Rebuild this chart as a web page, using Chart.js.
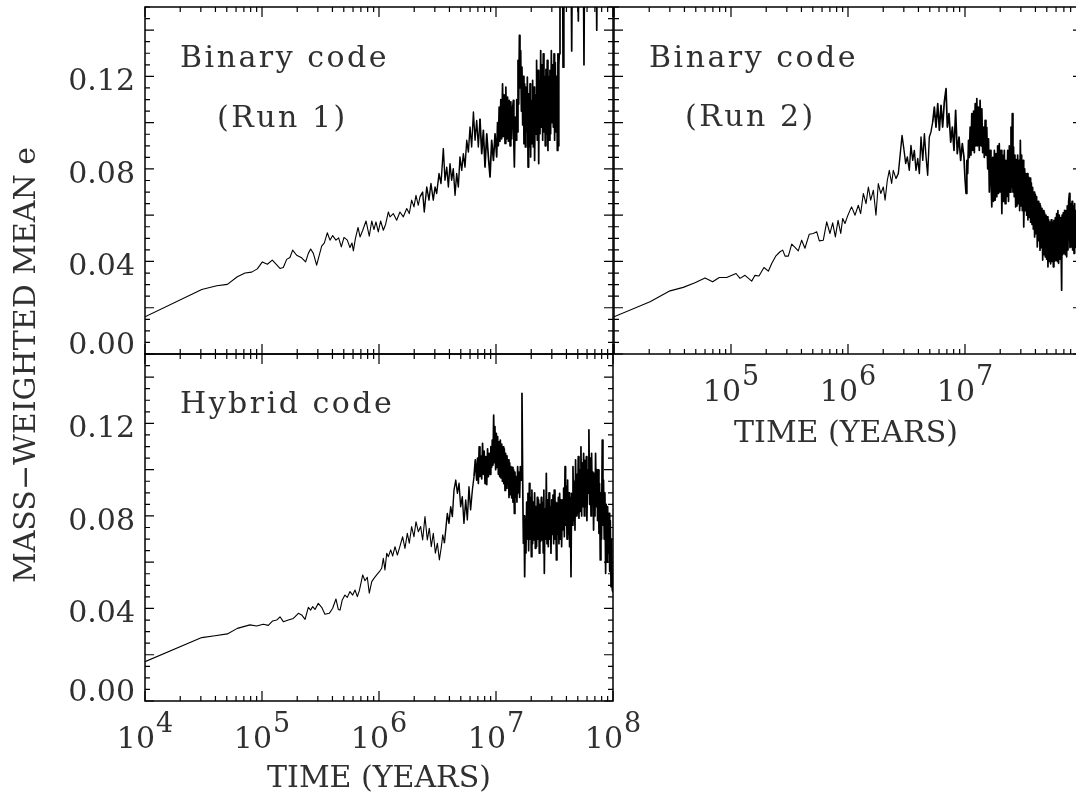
<!DOCTYPE html>
<html>
<head>
<meta charset="utf-8">
<title>Mass-weighted mean eccentricity</title>
<script src="https://cdn.jsdelivr.net/npm/chart.js@4.4.1/dist/chart.umd.min.js"></script>
<style>
  html, body { margin: 0; padding: 0; background: #fff; width: 1076px; height: 797px; overflow: hidden; }
  canvas { position: absolute; left: 0; top: 0; }
</style>
</head>
<body>
<canvas id="run1" width="1076" height="797"></canvas>
<canvas id="run2" width="1090" height="797"></canvas>
<canvas id="hybrid" width="1076" height="797"></canvas>
<script>
// ---- axis values --------------------------------------------------------
const xDecades = [4, 5, 6, 7, 8];                 // log10(time / yr)
const yTickValues = [0, 0.04, 0.08, 0.12];
const yTickLabels = ['0.00', '0.04', '0.08', '0.12'];
const yRange = [0, 0.15];
const yMinorStep = 0.005;                         // minor tick spacing
const yMajorEvery = 4;                            // long tick every 4 minors (0.02)

// ---- Binary code, run 1 -------------------------------------------------
const run1TraceT = [
  4.000, 4.485, 4.613, 4.704, 4.789, 4.855, 4.912, 4.960, 5.003, 5.046,
  5.088, 5.154, 5.182, 5.211, 5.239, 5.262, 5.296, 5.339, 5.373, 5.396,
  5.416, 5.439, 5.467, 5.510, 5.533, 5.558, 5.581, 5.604, 5.632, 5.655,
  5.678, 5.701, 5.729, 5.752, 5.769, 5.781, 5.798, 5.821, 5.838, 5.861,
  5.889, 5.917, 5.938, 5.957, 5.974, 5.994, 6.014, 6.037, 6.057, 6.080,
  6.094, 6.122, 6.151, 6.179, 6.208, 6.237, 6.259, 6.279, 6.299, 6.316,
  6.336, 6.350, 6.373, 6.387, 6.408, 6.427, 6.444, 6.464, 6.479, 6.493,
  6.513, 6.530, 6.550, 6.564, 6.579, 6.593, 6.607, 6.621, 6.635, 6.650,
  6.664, 6.678, 6.692, 6.707, 6.721, 6.735, 6.750, 6.764, 6.778, 6.792,
  6.807, 6.821, 6.835, 6.849, 6.863, 6.878, 6.892, 6.906, 6.921, 6.935,
  6.949, 6.963, 6.978, 6.992
];
const run1TraceE = [
  0.0161, 0.0279, 0.0295, 0.0301, 0.0334, 0.0350, 0.0354, 0.0368, 0.0398, 0.0388,
  0.0406, 0.0370, 0.0374, 0.0409, 0.0417, 0.0449, 0.0427, 0.0416, 0.0398, 0.0435,
  0.0454, 0.0435, 0.0384, 0.0466, 0.0480, 0.0524, 0.0492, 0.0512, 0.0492, 0.0502,
  0.0463, 0.0504, 0.0492, 0.0460, 0.0480, 0.0446, 0.0499, 0.0547, 0.0506, 0.0535,
  0.0575, 0.0509, 0.0575, 0.0538, 0.0571, 0.0528, 0.0575, 0.0535, 0.0561, 0.0614,
  0.0593, 0.0607, 0.0578, 0.0614, 0.0593, 0.0629, 0.0607, 0.0665, 0.0636, 0.0686,
  0.0643, 0.0679, 0.0700, 0.0614, 0.0722, 0.0665, 0.0737, 0.0665, 0.0722, 0.0694,
  0.0780, 0.0737, 0.0888, 0.0751, 0.0808, 0.0722, 0.0823, 0.0751, 0.0801, 0.0686,
  0.0780, 0.0722, 0.0852, 0.0794, 0.0866, 0.0808, 0.0924, 0.0873, 0.0981, 0.0895,
  0.1046, 0.0924, 0.1010, 0.0895, 0.1017, 0.0866, 0.0967, 0.0808, 0.0952, 0.0852,
  0.0765, 0.0924, 0.0837, 0.0952
];
const run1BandT = [
  7.006, 7.013, 7.020, 7.027, 7.034, 7.041, 7.049, 7.056, 7.063, 7.070,
  7.077, 7.084, 7.092, 7.099, 7.106, 7.113, 7.120, 7.127, 7.134, 7.141,
  7.148, 7.153, 7.157, 7.164, 7.171, 7.177, 7.182, 7.188, 7.194, 7.200,
  7.205, 7.211, 7.217, 7.222, 7.228, 7.234, 7.239, 7.245, 7.251, 7.256,
  7.262, 7.268, 7.274, 7.279, 7.285, 7.291, 7.296, 7.302, 7.308, 7.313,
  7.319, 7.325, 7.330, 7.336, 7.342, 7.347, 7.353, 7.359, 7.365, 7.370,
  7.376, 7.382, 7.387, 7.393, 7.399, 7.404, 7.410, 7.416, 7.421, 7.427,
  7.433, 7.438, 7.444, 7.450, 7.456, 7.461, 7.467, 7.473, 7.479, 7.484,
  7.490, 7.496, 7.501, 7.507, 7.513, 7.518, 7.524, 7.529, 7.533, 7.537,
  7.541, 7.547
];
const run1BandE = [
  0.0852, 0.1000, 0.0900, 0.1067, 0.0920, 0.1100, 0.0930, 0.1168, 0.0940, 0.1120,
  0.0910, 0.1154, 0.0930, 0.1110, 0.0920, 0.1096, 0.0900, 0.1090, 0.0930, 0.1060,
  0.1096, 0.0900, 0.0808, 0.1024, 0.0924, 0.1100, 0.0960, 0.1269, 0.1080, 0.1377,
  0.1150, 0.1312, 0.1050, 0.1240, 0.0990, 0.1200, 0.0909, 0.1168, 0.0895, 0.1154,
  0.0960, 0.1197, 0.0808, 0.1125, 0.0895, 0.1168, 0.0852, 0.1096, 0.0909, 0.1183,
  0.0895, 0.1154, 0.0837, 0.1120, 0.0950, 0.1269, 0.0924, 0.1226, 0.0823, 0.1180,
  0.0952, 0.1312, 0.0981, 0.1250, 0.0924, 0.1298, 0.0960, 0.1200, 0.0900, 0.1230,
  0.0950, 0.1269, 0.0880, 0.1200, 0.0924, 0.1226, 0.0952, 0.1312, 0.1000, 0.1250,
  0.0981, 0.1298, 0.0924, 0.1260, 0.0960, 0.1200, 0.0880, 0.1298, 0.0900, 0.1250,
  0.1298, 0.1499
];
// late spikes, mostly above the top of the axis
const run1SpikesT = [
  7.553, 7.560, 7.566, 7.573, 7.580, 7.595, 7.610, 7.640, 7.647, 7.655,
  7.690, 7.704, 7.712, 7.745, 7.752, 7.760, 7.810, 7.855, 7.861, 7.868,
  7.930
];
const run1SpikesE = [
  0.2000, 0.1700, 0.2100, 0.1240, 0.2000, 0.1750, 0.2200, 0.1850, 0.1310, 0.2000,
  0.1900, 0.1440, 0.2100, 0.1900, 0.1250, 0.2100, 0.2000, 0.1850, 0.1400, 0.2000,
  0.2200
];

// ---- Binary code, run 2 -------------------------------------------------
const run2TraceT = [
  4.000, 4.308, 4.479, 4.592, 4.692, 4.778, 4.843, 4.900, 4.963, 5.043,
  5.077, 5.120, 5.177, 5.205, 5.239, 5.282, 5.319, 5.348, 5.382, 5.419,
  5.442, 5.462, 5.490, 5.519, 5.547, 5.575, 5.604, 5.632, 5.669, 5.703,
  5.733, 5.755, 5.789, 5.818, 5.846, 5.869, 5.892, 5.915, 5.938, 5.955,
  5.974, 5.994, 6.017, 6.031, 6.060, 6.088, 6.108, 6.131, 6.154, 6.174,
  6.194, 6.217, 6.239, 6.259, 6.280, 6.302, 6.317, 6.336, 6.353, 6.373,
  6.387, 6.410, 6.430, 6.444, 6.462, 6.479, 6.493, 6.507, 6.524, 6.538,
  6.553, 6.567, 6.581, 6.596, 6.610, 6.624, 6.639, 6.653, 6.667, 6.681,
  6.695, 6.709, 6.724, 6.738, 6.752, 6.767, 6.781, 6.795, 6.809, 6.823,
  6.838, 6.849, 6.863, 6.878, 6.892, 6.906, 6.920, 6.934, 6.949, 6.963,
  6.977
];
const run2TraceE = [
  0.0161, 0.0226, 0.0273, 0.0288, 0.0308, 0.0329, 0.0312, 0.0331, 0.0331, 0.0348,
  0.0327, 0.0340, 0.0315, 0.0340, 0.0337, 0.0374, 0.0358, 0.0391, 0.0423, 0.0442,
  0.0449, 0.0423, 0.0423, 0.0475, 0.0461, 0.0446, 0.0492, 0.0457, 0.0518, 0.0521,
  0.0528, 0.0489, 0.0492, 0.0571, 0.0521, 0.0567, 0.0506, 0.0578, 0.0521, 0.0586,
  0.0564, 0.0593, 0.0621, 0.0636, 0.0600, 0.0643, 0.0607, 0.0694, 0.0650, 0.0722,
  0.0665, 0.0708, 0.0600, 0.0737, 0.0694, 0.0722, 0.0665, 0.0751, 0.0794, 0.0737,
  0.0794, 0.0758, 0.0780, 0.0852, 0.0945, 0.0880, 0.0823, 0.0852, 0.0794, 0.0902,
  0.0837, 0.0880, 0.0794, 0.0845, 0.0780, 0.0938, 0.0837, 0.0952, 0.0852, 0.0773,
  0.0938, 0.0960, 0.1003, 0.1067, 0.0981, 0.1082, 0.0967, 0.1075, 0.0981, 0.1089,
  0.1147, 0.0981, 0.1039, 0.0916, 0.0981, 0.0880, 0.1053, 0.0866, 0.0938, 0.0837,
  0.0909
];
const run2BandT = [
  6.991, 7.000, 7.009, 7.016, 7.023, 7.030, 7.037, 7.044, 7.051, 7.058,
  7.066, 7.073, 7.080, 7.087, 7.094, 7.101, 7.108, 7.115, 7.122, 7.129,
  7.137, 7.144, 7.151, 7.158, 7.165, 7.172, 7.179, 7.186, 7.194, 7.201,
  7.208, 7.215, 7.222, 7.229, 7.237, 7.244, 7.251, 7.258, 7.265, 7.272,
  7.279, 7.286, 7.293, 7.300, 7.308, 7.315, 7.322, 7.329, 7.336, 7.343,
  7.350, 7.357, 7.365, 7.372, 7.379, 7.386, 7.393, 7.399, 7.404, 7.410,
  7.415, 7.421, 7.427, 7.433, 7.438, 7.444, 7.450, 7.456, 7.462, 7.467,
  7.473, 7.479, 7.484, 7.490, 7.496, 7.500, 7.504, 7.510, 7.516, 7.521,
  7.527, 7.533, 7.538, 7.544, 7.550, 7.556, 7.561, 7.567, 7.573, 7.578,
  7.584, 7.590, 7.595, 7.601, 7.607, 7.612, 7.618, 7.624, 7.630, 7.635,
  7.641, 7.646, 7.652, 7.658, 7.664, 7.669, 7.675, 7.680, 7.686, 7.692,
  7.698, 7.703, 7.709, 7.715, 7.721, 7.726, 7.732, 7.737, 7.743, 7.749,
  7.755, 7.760, 7.766, 7.772, 7.778, 7.783, 7.789, 7.794, 7.800, 7.806,
  7.812, 7.818, 7.826, 7.830, 7.835, 7.840, 7.846, 7.851, 7.857, 7.863,
  7.869, 7.874, 7.880, 7.886, 7.892, 7.897, 7.903, 7.909, 7.915, 7.920,
  7.926, 7.932, 7.937, 7.943, 7.949, 7.955, 7.960, 7.966, 7.972, 7.977,
  7.983, 7.989, 7.994
];
const run2BandE = [
  0.0852, 0.0760, 0.0694, 0.0837, 0.0780, 0.0924, 0.0850, 0.0981, 0.0860, 0.1039,
  0.0880, 0.1050, 0.0870, 0.1082, 0.0900, 0.1104, 0.0900, 0.1067, 0.0880, 0.1096,
  0.0900, 0.1060, 0.0870, 0.0981, 0.0850, 0.1010, 0.0860, 0.0980, 0.0800, 0.0930,
  0.0700, 0.0880, 0.0765, 0.0636, 0.0850, 0.0660, 0.0880, 0.0665, 0.0866, 0.0680,
  0.0900, 0.0694, 0.0909, 0.0700, 0.0880, 0.0607, 0.0860, 0.0660, 0.0880, 0.0650,
  0.0837, 0.0680, 0.0880, 0.0660, 0.0900, 0.0700, 0.0981, 0.0720, 0.1039, 0.0700,
  0.0895, 0.0680, 0.0860, 0.0636, 0.0840, 0.0640, 0.0860, 0.0650, 0.0837, 0.0620,
  0.0924, 0.0640, 0.0860, 0.0620, 0.0837, 0.0600, 0.0549, 0.0800, 0.0620, 0.0780,
  0.0600, 0.0780, 0.0580, 0.0765, 0.0590, 0.0760, 0.0570, 0.0740, 0.0560, 0.0720,
  0.0540, 0.0700, 0.0506, 0.0690, 0.0520, 0.0680, 0.0463, 0.0660, 0.0490, 0.0650,
  0.0449, 0.0640, 0.0460, 0.0630, 0.0406, 0.0620, 0.0430, 0.0610, 0.0420, 0.0600,
  0.0410, 0.0593, 0.0377, 0.0580, 0.0400, 0.0570, 0.0390, 0.0580, 0.0400, 0.0570,
  0.0377, 0.0578, 0.0400, 0.0590, 0.0406, 0.0607, 0.0400, 0.0620, 0.0392, 0.0600,
  0.0410, 0.0590, 0.0276, 0.0600, 0.0430, 0.0610, 0.0435, 0.0621, 0.0430, 0.0620,
  0.0420, 0.0640, 0.0450, 0.0660, 0.0694, 0.0460, 0.0650, 0.0463, 0.0660, 0.0450,
  0.0640, 0.0435, 0.0650, 0.0460, 0.0620, 0.0463, 0.0630, 0.0450, 0.0600, 0.0470,
  0.0600, 0.0470, 0.0560
];

// ---- Hybrid code --------------------------------------------------------
const hybridTraceT = [
  4.000, 4.485, 4.598, 4.704, 4.789, 4.897, 4.954, 5.011, 5.054, 5.091,
  5.125, 5.154, 5.182, 5.225, 5.268, 5.311, 5.339, 5.368, 5.396, 5.416,
  5.433, 5.453, 5.481, 5.510, 5.538, 5.575, 5.604, 5.632, 5.652, 5.667,
  5.686, 5.709, 5.729, 5.752, 5.775, 5.795, 5.815, 5.832, 5.861, 5.880,
  5.900, 5.917, 5.938, 5.957, 5.980, 6.003, 6.023, 6.037, 6.051, 6.066,
  6.080, 6.100, 6.117, 6.137, 6.157, 6.174, 6.202, 6.222, 6.242, 6.259,
  6.279, 6.299, 6.316, 6.336, 6.356, 6.373, 6.393, 6.413, 6.430, 6.447,
  6.464, 6.482, 6.499, 6.516, 6.533, 6.545, 6.559, 6.573, 6.584, 6.598,
  6.613, 6.627, 6.641, 6.656, 6.670, 6.684, 6.698, 6.712, 6.726, 6.741,
  6.755, 6.769, 6.783, 6.798, 6.812, 6.823
];
const hybridTraceE = [
  0.0170, 0.0274, 0.0282, 0.0290, 0.0314, 0.0329, 0.0324, 0.0332, 0.0327, 0.0346,
  0.0350, 0.0364, 0.0343, 0.0350, 0.0357, 0.0379, 0.0372, 0.0353, 0.0405, 0.0393,
  0.0408, 0.0396, 0.0422, 0.0405, 0.0375, 0.0379, 0.0401, 0.0441, 0.0396, 0.0393,
  0.0437, 0.0458, 0.0448, 0.0473, 0.0458, 0.0480, 0.0451, 0.0477, 0.0545, 0.0520,
  0.0535, 0.0466, 0.0516, 0.0530, 0.0545, 0.0559, 0.0574, 0.0617, 0.0566, 0.0639,
  0.0624, 0.0653, 0.0627, 0.0667, 0.0631, 0.0660, 0.0710, 0.0660, 0.0725, 0.0682,
  0.0754, 0.0710, 0.0775, 0.0732, 0.0754, 0.0696, 0.0797, 0.0696, 0.0747, 0.0667,
  0.0725, 0.0639, 0.0682, 0.0610, 0.0667, 0.0718, 0.0682, 0.0754, 0.0811, 0.0768,
  0.0840, 0.0797, 0.0912, 0.0955, 0.0898, 0.0941, 0.0840, 0.0883, 0.0768, 0.0869,
  0.0783, 0.0926, 0.0826, 0.0912, 0.0970, 0.1042
];
// dense peak near 10^7, up to the single spike
const hybridPeakT = [
  6.835, 6.842, 6.849, 6.856, 6.863, 6.870, 6.878, 6.885, 6.892, 6.899,
  6.906, 6.913, 6.921, 6.928, 6.935, 6.942, 6.949, 6.956, 6.963, 6.968,
  6.974, 6.980, 6.986, 6.991, 6.997, 7.003, 7.009, 7.014, 7.020, 7.026,
  7.032, 7.037, 7.043, 7.049, 7.055, 7.060, 7.066, 7.071, 7.077, 7.082,
  7.088, 7.094, 7.100, 7.105, 7.111, 7.117, 7.123, 7.128, 7.134, 7.140,
  7.145, 7.151, 7.157, 7.162, 7.168, 7.174, 7.179, 7.185, 7.191, 7.196,
  7.202, 7.208, 7.214, 7.222, 7.228
];
const hybridPeakE = [
  0.0955, 0.1050, 0.0940, 0.1099, 0.0970, 0.1060, 0.0960, 0.1114, 0.0980, 0.1080,
  0.0940, 0.1056, 0.0935, 0.1090, 0.0970, 0.1071, 0.0980, 0.1100, 0.1010, 0.1128,
  0.1020, 0.1236, 0.1030, 0.1186, 0.1000, 0.1157, 0.1010, 0.1143, 0.0980, 0.1120,
  0.0970, 0.1128, 0.0964, 0.1110, 0.0950, 0.1099, 0.0940, 0.1090, 0.0910, 0.1071,
  0.0920, 0.1060, 0.0935, 0.1042, 0.0880, 0.1030, 0.0892, 0.1013, 0.0878, 0.1010,
  0.0860, 0.0999, 0.0811, 0.0990, 0.0880, 0.0970, 0.0860, 0.1013, 0.0900, 0.0990,
  0.0880, 0.1013, 0.0955, 0.1330, 0.0955
];
// broad noisy band after the drop
const hybridBandT = [
  7.234, 7.240, 7.245, 7.251, 7.256, 7.262, 7.268, 7.273, 7.279, 7.285,
  7.290, 7.296, 7.302, 7.307, 7.313, 7.319, 7.324, 7.330, 7.336, 7.341,
  7.347, 7.353, 7.358, 7.364, 7.370, 7.375, 7.381, 7.387, 7.392, 7.398,
  7.404, 7.409, 7.413, 7.419, 7.425, 7.430, 7.436, 7.442, 7.447, 7.453,
  7.459, 7.464, 7.470, 7.476, 7.481, 7.487, 7.493, 7.498, 7.504, 7.510,
  7.516, 7.521, 7.527, 7.533, 7.538, 7.544, 7.550, 7.555, 7.561, 7.567,
  7.573, 7.578, 7.584, 7.590, 7.595, 7.601, 7.607, 7.612, 7.618, 7.624,
  7.629, 7.635, 7.641, 7.646, 7.652, 7.658, 7.663, 7.669, 7.675, 7.680,
  7.686, 7.692, 7.698, 7.703, 7.709, 7.715, 7.720, 7.726, 7.732, 7.737,
  7.743, 7.749, 7.755, 7.760, 7.766, 7.772, 7.777, 7.783, 7.789, 7.794,
  7.800, 7.806, 7.812, 7.817, 7.823, 7.829, 7.834, 7.840, 7.846, 7.851,
  7.857, 7.863, 7.868, 7.874, 7.880, 7.885, 7.891, 7.897, 7.902, 7.908,
  7.914, 7.919, 7.925, 7.931, 7.937, 7.942, 7.949, 7.954, 7.960, 7.966,
  7.972, 7.977, 7.983, 7.989, 7.994, 8.000
];
const hybridBandE = [
  0.0682, 0.0800, 0.0537, 0.0790, 0.0640, 0.0860, 0.0700, 0.0898, 0.0650, 0.0941,
  0.0700, 0.0880, 0.0624, 0.0912, 0.0680, 0.0860, 0.0696, 0.0900, 0.0660, 0.0840,
  0.0667, 0.0880, 0.0700, 0.0869, 0.0639, 0.0850, 0.0690, 0.0880, 0.0696, 0.0860,
  0.0640, 0.0912, 0.0552, 0.0830, 0.0700, 0.0984, 0.0680, 0.0870, 0.0667, 0.0900,
  0.0700, 0.0840, 0.0639, 0.0869, 0.0720, 0.0890, 0.0680, 0.0912, 0.0700, 0.0860,
  0.0610, 0.0855, 0.0720, 0.0880, 0.0680, 0.0898, 0.0700, 0.0870, 0.0667, 0.0869,
  0.0740, 0.0920, 0.0710, 0.1013, 0.0760, 0.0930, 0.0700, 0.0955, 0.0720, 0.0900,
  0.0667, 0.0880, 0.0537, 0.0898, 0.0760, 0.1013, 0.0780, 0.0950, 0.0739, 0.1042,
  0.0800, 0.0980, 0.0811, 0.1056, 0.0790, 0.1000, 0.0820, 0.1099, 0.0800, 0.1030,
  0.0840, 0.1071, 0.0800, 0.1040, 0.0840, 0.1056, 0.0780, 0.1000, 0.0898, 0.1172,
  0.0850, 0.1050, 0.0800, 0.1071, 0.0860, 0.0990, 0.0739, 0.0984, 0.0800, 0.1071,
  0.0840, 0.1000, 0.0780, 0.0999, 0.0725, 0.0940, 0.0610, 0.0900, 0.0700, 0.1128,
  0.0760, 0.0955, 0.0700, 0.0900, 0.0552, 0.0850, 0.0600, 0.0840, 0.0639, 0.0811,
  0.0560, 0.0780, 0.0494, 0.0700, 0.0480, 0.0470
];

const run1LogT = [...run1TraceT, ...run1BandT, ...run1SpikesT];
const run1E = [...run1TraceE, ...run1BandE, ...run1SpikesE];
const run2LogT = [...run2TraceT, ...run2BandT];
const run2E = [...run2TraceE, ...run2BandE];
const hybridLogT = [...hybridTraceT, ...hybridPeakT, ...hybridBandT];
const hybridE = [...hybridTraceE, ...hybridPeakE, ...hybridBandE];

// Where each run turns from a thin trace into a dense, noisy band (log10 yr)
const run1BandFrom = [6.35, 6.85];
const run2BandFrom = [6.40, 6.72];
const hybridBandFrom = [6.55, 6.80];

// ---- drawing helpers ----------------------------------------------------
const FONT = "'DejaVu Serif', 'Liberation Serif', serif";
const INK = '#303030';

function toPoints(logT, e) {
  if (logT.length !== e.length) throw new Error('length mismatch ' + logT.length + ' vs ' + e.length);
  return logT.map((t, i) => ({ x: Math.pow(10, t), y: e[i] }));
}

// Frame, inward ticks, tick labels and captions for one panel
function panelDecor(id, opts) {
  return {
    id: id,
    afterDatasetsDraw(chart) {
      const ctx = chart.ctx;
      const xs = chart.scales.x, ys = chart.scales.y;
      const { left, right, top, bottom } = chart.chartArea;
      ctx.save();
      ctx.strokeStyle = '#000';
      ctx.lineWidth = 1.5;
      ctx.strokeRect(left, top, right - left, bottom - top);

      // x ticks (log decades with 2..9 minors), top and bottom, pointing inward
      ctx.lineWidth = 1.2;
      ctx.beginPath();
      xDecades.forEach((d, idx) => {
        const last = idx === xDecades.length - 1;
        for (let k = 1; k <= (last ? 1 : 9); k++) {
          const px = xs.getPixelForValue(k * Math.pow(10, d));
          const len = k === 1 ? 10 : 5;
          ctx.moveTo(px, bottom); ctx.lineTo(px, bottom - len);
          ctx.moveTo(px, top); ctx.lineTo(px, top + len);
        }
      });
      // y ticks, left and right, pointing inward
      const nMinor = Math.round((yRange[1] - yRange[0]) / yMinorStep);
      for (let i = 0; i <= nMinor; i++) {
        const py = ys.getPixelForValue(yRange[0] + i * yMinorStep);
        const len = i % yMajorEvery === 0 ? 9 : 5;
        ctx.moveTo(left, py); ctx.lineTo(left + len, py);
        ctx.moveTo(right, py); ctx.lineTo(right - len, py);
      }
      ctx.stroke();

      ctx.fillStyle = INK;
      ctx.textBaseline = 'alphabetic';

      // y tick labels
      if (opts.yLabels) {
        ctx.font = '30px ' + FONT;
        ctx.textAlign = 'right';
        yTickValues.forEach((v, i) => {
          const py = ys.getPixelForValue(v);
          ctx.fillText(yTickLabels[i], left - 10, py + (v === 0 ? 0 : 14));
        });
      }

      // x tick labels as 10^n
      if (opts.xLabels) {
        opts.xLabels.forEach(d => {
          const px = xs.getPixelForValue(Math.pow(10, d));
          ctx.font = '30px ' + FONT;
          const wBase = ctx.measureText('10').width;
          ctx.font = '27px ' + FONT;
          const wExp = ctx.measureText(String(d)).width;
          const x0 = px - (wBase + 1 + wExp) / 2;
          ctx.textAlign = 'left';
          ctx.font = '30px ' + FONT;
          ctx.fillText('10', x0, bottom + 47);
          ctx.font = '27px ' + FONT;
          ctx.fillText(String(d), x0 + wBase + 1, bottom + 31);
        });
      }

      // x axis title
      if (opts.xTitle) {
        ctx.font = '30px ' + FONT;
        ctx.textAlign = 'center';
        ctx.fillText('TIME (YEARS)', (left + right) / 2 + (opts.xTitleShift || 0), opts.xTitleBaseline);
      }

      // y axis title, rotated
      if (opts.yTitle) {
        ctx.save();
        ctx.font = '30px ' + FONT;
        ctx.textAlign = 'center';
        ctx.translate(35, 365);
        ctx.rotate(-Math.PI / 2);
        ctx.fillText('MASS\u2212WEIGHTED MEAN e', 0, 0);
        ctx.restore();
      }

      // panel captions
      ctx.font = '30px ' + FONT;
      ctx.textAlign = 'left';
      ctx.letterSpacing = '2.5px';
      (opts.notes || []).forEach(n => ctx.fillText(n.text, n.x, n.y));
      ctx.letterSpacing = '0px';
      ctx.restore();
    }
  };
}

function makePanel(canvasId, logT, e, bandFrom, padding, decor) {
  const mid = Math.pow(10, bandFrom[0]);
  const dense = Math.pow(10, bandFrom[1]);
  return new Chart(document.getElementById(canvasId), {
    type: 'line',
    data: {
      datasets: [{
        data: toPoints(logT, e),
        borderColor: '#000',
        borderWidth: 1.1,
        borderJoinStyle: 'round',
        pointRadius: 0,
        tension: 0,
        fill: false,
        segment: {
          borderWidth: c => (c.p0.parsed.x >= dense ? 1.7 : c.p0.parsed.x >= mid ? 1.4 : 1.1)
        }
      }]
    },
    options: {
      responsive: false,
      animation: false,
      events: [],
      layout: { padding: padding },
      plugins: { legend: { display: false }, tooltip: { enabled: false } },
      scales: {
        x: { type: 'logarithmic', min: 1e4, max: 1e8, display: false },
        y: { type: 'linear', min: yRange[0], max: yRange[1], display: false }
      }
    },
    plugins: [decor]
  });
}

makePanel('run1', run1LogT, run1E, run1BandFrom,
  { left: 145, top: 7, right: 463, bottom: 443 },
  panelDecor('run1Decor', {
    yLabels: true,
    yTitle: true,
    notes: [
      { text: 'Binary code', x: 180, y: 67 },
      { text: '(Run 1)', x: 217, y: 127 }
    ]
  }));

makePanel('run2', run2LogT, run2E, run2BandFrom,
  { left: 614, top: 7, right: 8, bottom: 443 },
  panelDecor('run2Decor', {
    xLabels: [5, 6, 7],
    xTitle: true,
    xTitleShift: -2,
    xTitleBaseline: 442,
    notes: [
      { text: 'Binary code', x: 649, y: 67 },
      { text: '(Run 2)', x: 685, y: 126 }
    ]
  }));

makePanel('hybrid', hybridLogT, hybridE, hybridBandFrom,
  { left: 145, top: 354, right: 463, bottom: 96 },
  panelDecor('hybridDecor', {
    yLabels: true,
    xLabels: [4, 5, 6, 7, 8],
    xTitle: true,
    xTitleBaseline: 787,
    notes: [
      { text: 'Hybrid code', x: 180, y: 413 }
    ]
  }));
</script>
</body>
</html>
